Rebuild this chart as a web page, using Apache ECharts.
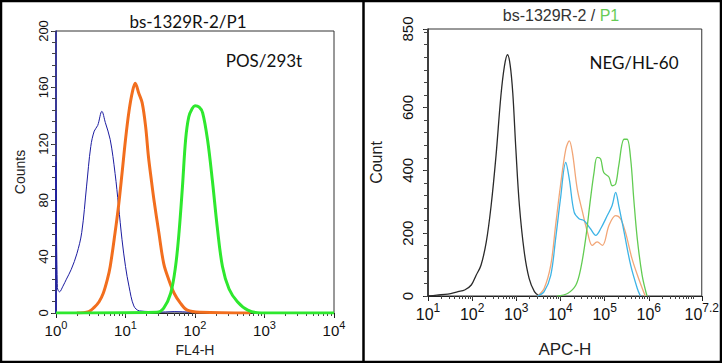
<!DOCTYPE html>
<html><head><meta charset="utf-8">
<script src="https://cdn.jsdelivr.net/npm/echarts@6/dist/echarts.min.js"></script>
<style>html,body{margin:0;padding:0;background:#fff}#c{width:722px;height:363px}</style>
</head><body><div id="c"></div>
<script>
// ---- tick labels (x given as log10 exponent) ----
const leftXTicks = [0, 1, 2, 3, 4];
const leftYTicks = [0, 40, 80, 120, 160, 200];
const rightXTicks = [1, 2, 3, 4, 5, 6, 7.2];
const rightYTicks = [0, 200, 400, 600, 850];

// ---- left panel: POS/293t  [log10(FL4-H), Counts] ----
const posBlue = [[0,0],[0,107],[0.02,18],[0.05,15],[0.1,19],[0.15,24],[0.22,31],[0.3,42],[0.37,57],[0.44,90],[0.5,118],[0.55,129],[0.6,133],[0.66,143],[0.71,135],[0.78,123],[0.85,99],[0.9,76],[0.95,52],[1.0,33],[1.05,19],[1.12,5],[1.2,1.5],[1.36,1],[1.45,0.5],[1.7,1],[1.95,0.5],[2.05,0]];
const posOrange = [[0.3,0],[0.47,1],[0.55,4],[0.62,8],[0.68,14],[0.74,24],[0.78,33],[0.85,57],[0.9,76],[0.95,99],[1.0,123],[1.05,143],[1.1,157],[1.14,163],[1.19,156],[1.24,149],[1.29,132],[1.33,111],[1.37,95],[1.41,80],[1.48,57],[1.55,35],[1.62,24],[1.7,14],[1.79,7],[1.89,2],[2.08,0.5],[2.8,0]];
const posGreen = [[0,0],[1.45,0.5],[1.55,3.5],[1.65,14],[1.72,33],[1.77,57],[1.82,90],[1.865,123],[1.91,139],[1.96,145],[2.0,147],[2.06,146],[2.11,142],[2.18,123],[2.25,94],[2.32,61],[2.395,33],[2.49,17],[2.61,8],[2.76,2],[2.95,0],[4,0]];

// ---- right panel: NEG/HL-60  [log10(APC-H), Count] ----
const negBlack = [[1.0,0],[1.2,3],[1.45,6],[1.68,14],[1.83,19],[1.98,35],[2.09,66],[2.2,98],[2.32,172],[2.43,288],[2.54,446],[2.65,636],[2.73,731],[2.8,768],[2.86,736],[2.92,646],[2.99,467],[3.07,288],[3.18,140],[3.29,56],[3.41,14],[3.52,0]];
const negBlue = [[3.48,0],[3.63,14],[3.78,66],[3.89,182],[4.0,309],[4.12,425],[4.2,372],[4.31,267],[4.42,246],[4.53,240],[4.68,214],[4.8,193],[4.91,214],[5.06,256],[5.17,288],[5.25,330],[5.32,288],[5.44,204],[5.59,98],[5.74,24],[5.81,0]];
const negOrange = [[3.48,0],[3.63,24],[3.78,98],[3.89,225],[4.0,351],[4.12,467],[4.2,494],[4.27,457],[4.38,341],[4.5,267],[4.61,204],[4.72,161],[4.83,172],[4.95,161],[5.1,225],[5.25,256],[5.36,246],[5.47,204],[5.62,119],[5.77,56],[5.92,0]];
const negGreen = [[3.93,0],[4.16,8],[4.35,35],[4.46,88],[4.57,182],[4.68,309],[4.76,393],[4.83,441],[4.91,436],[4.98,393],[5.1,378],[5.17,351],[5.25,357],[5.32,415],[5.44,499],[5.51,499],[5.59,436],[5.66,309],[5.74,182],[5.85,66],[5.96,0]];

function logMinor(lo, hi) {
  const out = [];
  for (let n = Math.floor(lo); n < hi; n++) {
    for (let k = 1; k <= 9; k++) {
      const v = n + Math.log10(k);
      if (v > lo && v < hi) out.push(v);
    }
  }
  return out;
}
function multiples(step, max) { const o = []; for (let v = 0; v <= max; v += step) o.push(v); return o; }

const AR = 'Liberation Sans, Arial, sans-serif';
const CAL = 'Lato, Carlito, sans-serif';

function powLabel(v) { return '{b|10}{s|' + v + '}'; }

function xAxes(grid, ticks, min, max, labelSize, supSize, name, nameGap, nameSize) {
  return [{
    type: 'value', gridIndex: grid, min: min, max: max, position: 'bottom',
    axisLine: { lineStyle: { color: '#222', width: 1 } },
    axisTick: { customValues: ticks, length: 5, lineStyle: { color: '#222' } },
    axisLabel: { customValues: ticks, formatter: powLabel, color: '#111', margin: 6,
      rich: { b: { fontSize: labelSize, fontFamily: AR, color: '#111', padding: [4,0,0,0], verticalAlign: 'bottom' },
              s: { fontSize: supSize, fontFamily: AR, color: '#111', verticalAlign: 'top' } } },
    splitLine: { show: false },
    name: name, nameLocation: 'middle', nameGap: nameGap,
    nameTextStyle: { fontFamily: AR, fontSize: nameSize, color: '#222' }
  }, {
    type: 'value', gridIndex: grid, min: min, max: max, position: 'bottom',
    axisLine: { show: false },
    axisTick: { customValues: logMinor(min, max), length: 3, lineStyle: { color: '#444' } },
    axisLabel: { show: false }, splitLine: { show: false }
  }];
}
function yAxes(grid, major, minor, max, lineColor, labelSize, margin, name, nameGap, nameSize) {
  return [{
    type: 'value', gridIndex: grid, min: 0, max: max, position: 'left',
    axisLine: { show: true, lineStyle: { color: lineColor, width: 1.5 } },
    axisTick: { customValues: major, length: 5, lineStyle: { color: '#222' } },
    axisLabel: { customValues: major, rotate: 90, fontFamily: AR, fontSize: labelSize, color: '#111', margin: margin },
    splitLine: { show: false },
    name: name, nameLocation: 'middle', nameGap: nameGap, nameRotate: 90,
    nameTextStyle: { fontFamily: AR, fontSize: nameSize, color: '#222' }
  }, {
    type: 'value', gridIndex: grid, min: 0, max: max, position: 'left',
    axisLine: { show: false },
    axisTick: { customValues: minor, length: 4, lineStyle: { color: '#444' } },
    axisLabel: { show: false }, splitLine: { show: false }
  }];
}

function line(data, xi, yi, color, width) {
  return { type: 'line', xAxisIndex: xi, yAxisIndex: yi, data: data, showSymbol: false, smooth: 0.35,
    lineStyle: { color: color, width: width }, animation: false, z: 3 };
}

const chart = echarts.init(document.getElementById('c'), null, { renderer: 'svg' });
chart.setOption({
  animation: false,
  backgroundColor: '#fff',
  grid: [
    { left: 56, right: 388, top: 31, bottom: 50, show: true, borderColor: '#333', borderWidth: 1, backgroundColor: 'transparent' },
    { left: 428, right: 18, top: 29, bottom: 65, show: true, borderColor: '#333', borderWidth: 1, backgroundColor: 'transparent' }
  ],
  xAxis: [
    ...xAxes(0, leftXTicks, 0, 4, 15, 11, 'FL4-H', 28, 14),
    ...xAxes(1, rightXTicks, 1, 7.2, 16, 12, 'APC-H', 45, 17)
  ],
  yAxis: [
    ...yAxes(0, leftYTicks, multiples(8, 200), 200, '#1a1a96', 13, 6, 'Counts', 29, 14),
    ...yAxes(1, rightYTicks, multiples(40, 850).concat([850]), 850, '#222', 15, 13, 'Count', 44, 16)
  ],
  series: [
    line(posBlue, 0, 0, '#1c1ca0', 1),
    line(posOrange, 0, 0, '#f26e1e', 3),
    line(posGreen, 0, 0, '#2ee82e', 3),
    line(negBlack, 2, 2, '#2a2a2a', 1.3),
    line(negOrange, 2, 2, '#f2a677', 1.3),
    line(negBlue, 2, 2, '#3db4e6', 1.3),
    line(negGreen, 2, 2, '#62cc52', 1.3)
  ],
  graphic: [
    { type: 'rect', shape: { x: 1, y: 1, width: 720, height: 361 }, style: { fill: 'none', stroke: '#000', lineWidth: 2.5 }, z: 100, silent: true },
    { type: 'line', shape: { x1: 363.5, y1: 0, x2: 363.5, y2: 363 }, style: { stroke: '#000', lineWidth: 2.5 }, z: 100, silent: true },
    { type: 'text', x: 188, y: 21, style: { text: 'bs-1329R-2/P1', font: '17px ' + CAL, fill: '#111', textAlign: 'center', textVerticalAlign: 'middle' } },
    { type: 'text', x: 264, y: 60, style: { text: 'POS/293t', font: '17px ' + CAL, fill: '#111', textAlign: 'center', textVerticalAlign: 'middle' } },
    { type: 'text', x: 561, y: 15, style: { text: '{a|bs-1329R-2 / }{g|P1}', textAlign: 'center', textVerticalAlign: 'middle',
        rich: { a: { fontFamily: AR, fontSize: 16, fill: '#333', color: '#333' }, g: { fontFamily: AR, fontSize: 16, fill: '#66cc55', color: '#66cc55' } } } },
    { type: 'text', x: 634, y: 62, style: { text: 'NEG/HL-60', font: '17px ' + CAL, fill: '#111', textAlign: 'center', textVerticalAlign: 'middle' } }
  ]
});
</script></body></html>
